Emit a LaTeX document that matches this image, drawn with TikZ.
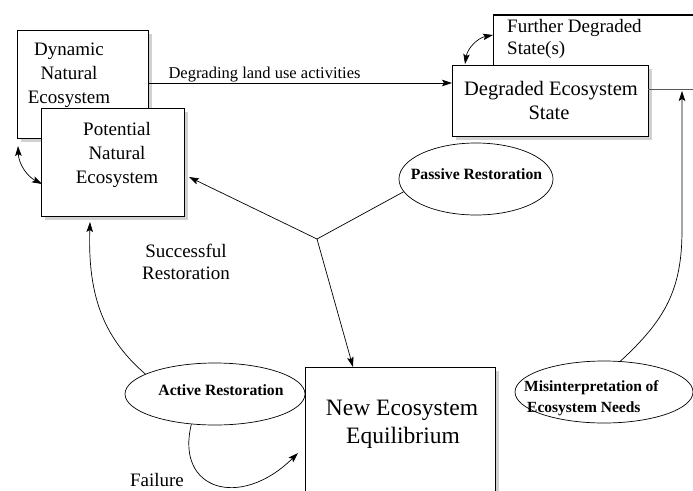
\documentclass[tikz,border=0pt]{standalone}
\usepackage{fontspec}
\setmainfont{Liberation Serif}
\usetikzlibrary{arrows.meta,shapes.geometric,shadows}
\begin{document}
\begin{tikzpicture}[x=1pt,y=-1pt,
  box/.style={draw, line width=0.8pt, fill=white, inner sep=0pt, anchor=north west,
    drop shadow={shadow xshift=4pt, shadow yshift=-4pt, fill=black!18, opacity=1}},
  ell/.style={draw, ellipse, line width=0.7pt, inner sep=0pt},
  arr/.style={-{Stealth[length=10pt,width=6.5pt,inset=2pt]}, line width=0.7pt},
  darr/.style={{Stealth[length=10pt,width=6.5pt,inset=2pt]}-{Stealth[length=10pt,width=6.5pt,inset=2pt]}, line width=0.7pt},
  bt/.style={anchor=base, inner sep=0pt, font=\fontsize{19}{23}\selectfont},
  bt2/.style={anchor=base, inner sep=0pt, font=\fontsize{20.5}{24}\selectfont},
  btl/.style={anchor=base west, inner sep=0pt, font=\fontsize{19}{23}\selectfont},
  lt/.style={anchor=base, inner sep=0pt, font=\fontsize{16.5}{20}\selectfont},
  et/.style={anchor=base, inner sep=0pt, font=\bfseries\fontsize{15.7}{19}\selectfont},
  etl/.style={anchor=base west, inner sep=0pt, font=\bfseries\fontsize{15.5}{19}\selectfont},
  big/.style={anchor=base, inner sep=0pt, font=\fontsize{23.5}{28}\selectfont}
]
\useasboundingbox (0,0) rectangle (693,490);
\clip (0,0) rectangle (693,490);

% boxes
\node[box, minimum width=131pt, minimum height=108pt] (dyn) at (17,30) {};
\node[box, minimum width=143pt, minimum height=108pt] (pot) at (41,108) {};
\node[box, minimum width=196pt, minimum height=71pt] (deg) at (452,65) {};
\node[box, minimum width=190pt, minimum height=160pt] (neq) at (305,367) {};

% further degraded state(s)
\coordinate (furTL) at (493,15);
\coordinate (furTR) at (700,15);
\coordinate (furB) at (493,65);
\draw[line width=2.6pt] (furTL) -- (furTR);
\draw[line width=0.8pt] (furTL) -- (furB);

% box texts
\node[bt] (t1) at (69,55) {Dynamic};
\node[bt] (t2) at (69,79) {Natural};
\node[bt] (t3) at (69,103) {Ecosystem};
\node[bt] (t4) at (117,135) {Potential};
\node[bt] (t5) at (117,159) {Natural};
\node[bt] (t6) at (117,183) {Ecosystem};
\node[bt2] (t7) at (551,95) {Degraded Ecosystem};
\node[bt2] (t8) at (549,119) {State};
\node[btl] (t9) at (507,32) {Further Degraded};
\node[btl] (t10) at (507,54) {State(s)};
\node[big] (t11) at (402,415) {New Ecosystem};
\node[big] (t12) at (403,443) {Equilibrium};
\node[bt] (t13) at (186,257) {Successful};
\node[bt] (t14) at (186,279) {Restoration};
\node[bt] (t15) at (157,486) {Failure};

% ellipses
\node[ell, minimum width=154pt, minimum height=72pt] (pas) at (476,179) {};
\node[ell, minimum width=180pt, minimum height=62pt] (act) at (215,394) {};
\node[ell, minimum width=178pt, minimum height=62pt] (mis) at (604,392) {};
\node[et] (e1) at (476.5,179) {Passive Restoration};
\node[et] (e2) at (221,395) {Active Restoration};
\node[etl] (e3) at (524,391) {Misinterpretation of};
\node[etl] (e4) at (527,412) {Ecosystem Needs};

% degrading land use
\coordinate (dgA) at (148,83);
\coordinate (dgB) at (452,83);
\draw[arr] (dgA) -- (dgB);
\node[lt] (lab) at (264.5,78) {Degrading land use activities};

% degraded <-> further
\coordinate (degtop) at (465,64);
\coordinate (furL) at (493,35);
\draw[darr] (furL) to[bend right=35] (degtop);

% dynamic <-> potential
\coordinate (dynB) at (18,146);
\coordinate (potL) at (42,184);
\draw[darr] (dynB) to[bend right=30] (potL);

% passive restoration split
\coordinate (J) at (317,239);
\coordinate (potR) at (189,177);
\coordinate (neqT) at (353,367);
\draw[line width=0.7pt] (pas.190) -- (J);
\draw[arr] (J) -- (potR);
\draw[arr] (J) -- (neqT);

% successful restoration
\coordinate (potBot) at (90,222);
\draw[arr] (act.164) .. controls (100,335) and (88,290) .. (potBot);

% failure
\coordinate (neqL) at (298,453);
\draw[arr] (act.-128) .. controls (175,490) and (240,510) .. (neqL);

% misinterpretation -> degraded line
\coordinate (degR) at (648,89);
\coordinate (rEnd) at (700,89);
\draw[line width=0.8pt, black!65] (degR) -- (rEnd);
\coordinate (upTip) at (682,91);
\draw[arr] (mis.62) .. controls (665,320) and (682,290) .. (682,230) -- (upTip);
\end{tikzpicture}
\end{document}
